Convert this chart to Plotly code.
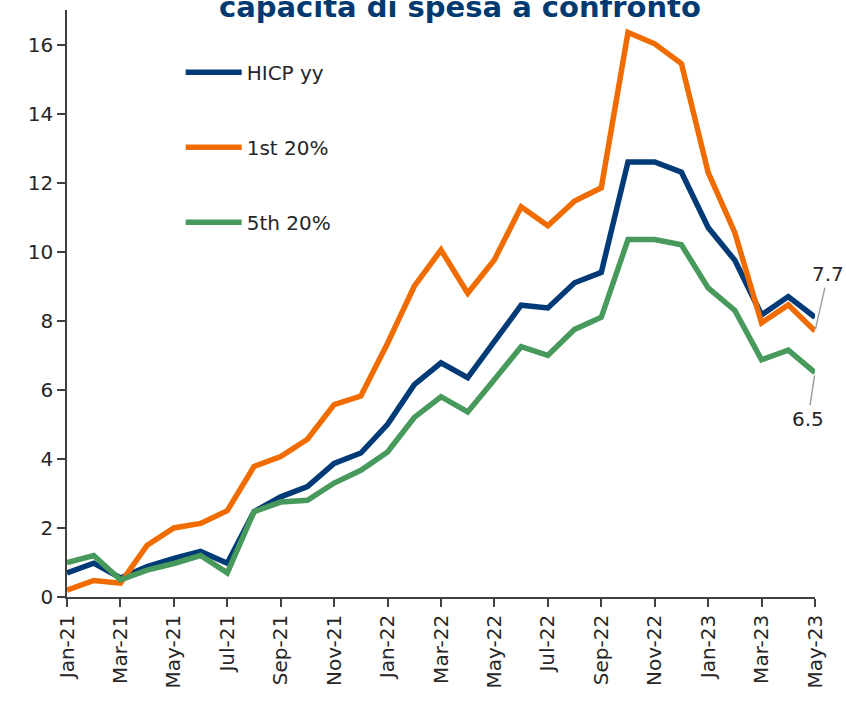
import plotly.graph_objects as go

months = ["Jan-21", "Feb-21", "Mar-21", "Apr-21", "May-21", "Jun-21", "Jul-21", "Aug-21",
          "Sep-21", "Oct-21", "Nov-21", "Dec-21", "Jan-22", "Feb-22", "Mar-22", "Apr-22",
          "May-22", "Jun-22", "Jul-22", "Aug-22", "Sep-22", "Oct-22", "Nov-22", "Dec-22",
          "Jan-23", "Feb-23", "Mar-23", "Apr-23", "May-23"]

hicp = [0.7, 0.98, 0.55, 0.88, 1.12, 1.32, 0.98, 2.47, 2.9, 3.2, 3.87, 4.17, 5.0, 6.15,
        6.78, 6.35, 7.4, 8.45, 8.37, 9.1, 9.4, 12.6, 12.6, 12.3, 10.7, 9.75, 8.17, 8.7, 8.1]
first20 = [0.2, 0.48, 0.4, 1.5, 2.0, 2.13, 2.5, 3.78, 4.07, 4.57, 5.57, 5.82, 7.35, 9.0,
           10.05, 8.8, 9.77, 11.3, 10.75, 11.47, 11.85, 16.35, 16.02, 15.45, 12.3, 10.55,
           7.94, 8.46, 7.7]
fifth20 = [1.0, 1.2, 0.5, 0.78, 0.97, 1.2, 0.7, 2.47, 2.75, 2.8, 3.3, 3.67, 4.2, 5.2,
           5.8, 5.36, 6.3, 7.25, 7.0, 7.75, 8.1, 10.35, 10.35, 10.2, 8.95, 8.3, 6.87, 7.15, 6.5]

series = [("HICP yy", hicp, "#003B77"), ("1st 20%", first20, "#F06C00"), ("5th 20%", fifth20, "#489A5C")]
tick_labels = months[::2]
title_text = "capacità di spesa a confronto"

FONT = "DejaVu Sans"
fig = go.Figure()
for name, vals, col in series:
    fig.add_trace(go.Scatter(x=list(range(len(months))), y=vals, name=name, mode="lines",
                             line=dict(color=col, width=5.5), legendgroup=name))

fig.update_layout(
    width=846, height=701,
    margin=dict(l=67, r=31, t=10, b=104),
    paper_bgcolor="white", plot_bgcolor="white",
    font=dict(family=FONT, size=20, color="#262626"),
    showlegend=True,
    legend=dict(x=0.152, y=0.927, xanchor="left", yanchor="top", traceorder="grouped",
                tracegroupgap=46, font=dict(size=20, color="#262626"),
                bgcolor="rgba(0,0,0,0)", itemwidth=56),
    xaxis=dict(range=[0, len(months) - 1], tickmode="array",
               tickvals=list(range(0, len(months), 2)), ticktext=tick_labels,
               tickangle=-90, showgrid=False, zeroline=False, showline=True,
               linecolor="#404040", linewidth=1.5, ticks="outside", ticklen=8,
               tickcolor="#404040", tickwidth=1.5, tickfont=dict(size=20)),
    yaxis=dict(range=[0, 17], tickmode="array", tickvals=list(range(0, 17, 2)),
               showgrid=False, zeroline=False, showline=True, linecolor="#404040",
               linewidth=1.5, ticks="outside", ticklen=8, tickcolor="#404040",
               tickwidth=1.5, tickfont=dict(size=20)),
)

fig.add_annotation(x=0.525, y=0.973, xref="paper", yref="paper", xanchor="center",
                   yanchor="bottom", text="<b>" + title_text + "</b>", showarrow=False,
                   font=dict(size=29, color="#003A70", family=FONT))

last = len(months) - 1
fig.add_annotation(x=last, y=first20[-1], text=f"{first20[-1]:.1f}", showarrow=True,
                   arrowhead=0, arrowcolor="#A0A0A0", arrowwidth=1.5, ax=13, ay=-57,
                   standoff=2, font=dict(size=20, color="#262626"))
fig.add_annotation(x=last, y=fifth20[-1], text=f"{fifth20[-1]:.1f}", showarrow=True,
                   arrowhead=0, arrowcolor="#A0A0A0", arrowwidth=1.5, ax=-7, ay=46,
                   standoff=3, font=dict(size=20, color="#262626"))

fig.write_html("out.html", config={"displayModeBar": False},
               post_script="document.body.style.margin='0';")
